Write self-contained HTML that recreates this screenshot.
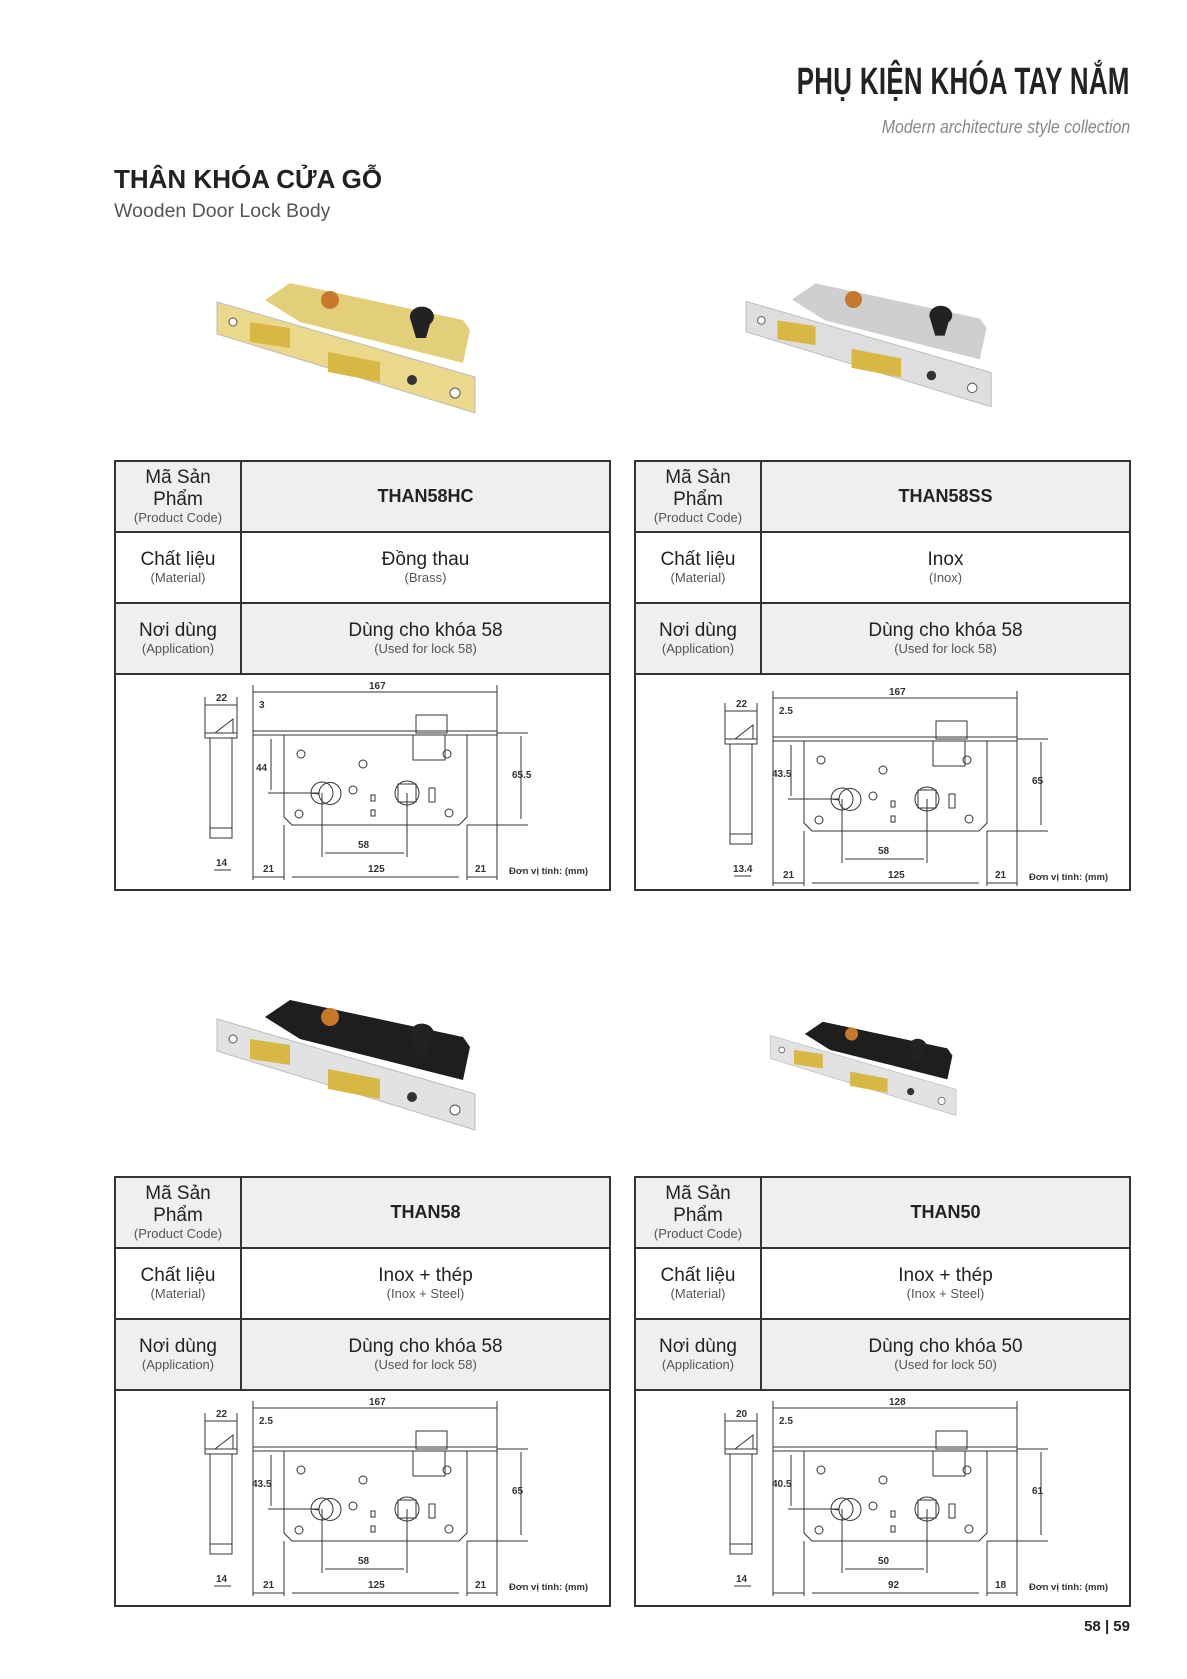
<!DOCTYPE html>
<html><head><meta charset="utf-8"><style>
*{margin:0;padding:0;box-sizing:border-box}
body{width:1187px;height:1679px;background:#fff;position:relative;font-family:"Liberation Sans","Noto Sans CJK SC",sans-serif;color:#222;overflow:hidden}
.abs{position:absolute}
.t1{right:57px;top:61px;font-size:38px;font-weight:bold;color:#222;transform:scaleX(0.68);transform-origin:right top;white-space:nowrap;letter-spacing:0.5px}
.t2{right:57px;top:117px;font-size:18px;font-style:italic;color:#888;transform:scaleX(0.88);transform-origin:right top;white-space:nowrap}
.h1{left:114px;top:164px;font-size:26px;font-weight:bold;color:#222;white-space:nowrap}
.h2{left:114px;top:200px;font-size:19.5px;color:#555;white-space:nowrap}
table{position:absolute;border-collapse:collapse;width:497px;table-layout:fixed}
td{border:2px solid #333;text-align:center;vertical-align:middle;height:71px;line-height:1.15}
tr.g td{background:#efefef}
td.k{width:126px;font-size:19px}
td.v{font-size:19px}
td.v b{font-size:18px;font-weight:600}
small{display:block;font-size:13px;color:#555}
td.d{height:216px;background:#fff;padding:0}
.pn{right:57px;top:1618px;font-size:15px;font-weight:bold}
</style></head><body>
<div class="abs t1">PHỤ KIỆN KHÓA TAY NẮM</div>
<div class="abs t2">Modern architecture style collection</div>
<div class="abs h1">THÂN KHÓA CỬA GỖ</div>
<div class="abs h2">Wooden Door Lock Body</div>

<svg class="abs" style="left:0;top:0" width="1187" height="1679">
<defs>
<g id="lock">
 <polygon points="290,283 463,320 470,330 463,363 300,322 265,300" fill="var(--b)"/>
 <polygon points="217,302 475,377 475,413 217,334" fill="var(--p)" stroke="#bbb" stroke-width="1"/>
 <polygon points="250,322 290,328 290,348 250,342" fill="var(--l)"/>
 <polygon points="328,352 380,362 380,382 328,372" fill="var(--l)"/>
 <circle cx="330" cy="300" r="9" fill="#c8782a"/>
 <path d="M410 318 a12 10 0 1 1 20 6 l-4 14 h-10z" fill="#222"/>
 <circle cx="412" cy="380" r="5" fill="#333"/>
 <circle cx="455" cy="393" r="5" fill="#fff" stroke="#555"/>
 <circle cx="233" cy="322" r="4" fill="#fff" stroke="#555"/>
</g>
<g id="dwg" fill="none" stroke="#333" stroke-width="1">
 <line x1="92" y1="30" x2="124" y2="30"/><line x1="92" y1="22" x2="92" y2="58"/><line x1="124" y1="22" x2="124" y2="58"/>
 <rect x="92" y="58" width="32" height="5"/><polygon points="102,58 120,44 120,58"/>
 <rect x="97" y="63" width="22" height="100"/><rect x="97" y="153" width="22" height="10"/>
 <line x1="101" y1="195" x2="118" y2="195"/>
 <line x1="140" y1="17" x2="384" y2="17"/><line x1="140" y1="10" x2="140" y2="205"/><line x1="384" y1="10" x2="384" y2="205"/>
 <rect x="140" y="56" width="244" height="4"/>
 <polygon points="171,60 354,60 354,142 346,150 179,150 171,142"/>
 <rect x="303" y="40" width="31" height="18"/><rect x="300" y="60" width="32" height="25"/>
 <path d="M198 118 h8 a11 11 0 1 1 0 1 z"/><circle cx="209" cy="118" r="11"/>
 <rect x="285" y="109" width="18" height="18"/><circle cx="294" cy="118" r="12"/>
 <circle cx="188" cy="79" r="4"/><circle cx="334" cy="79" r="4"/><circle cx="186" cy="139" r="4"/><circle cx="336" cy="138" r="4"/><circle cx="250" cy="89" r="4"/><circle cx="240" cy="115" r="4"/>
 <rect x="316" y="113" width="6" height="14"/><rect x="258" y="120" width="4" height="6"/><rect x="258" y="135" width="4" height="6"/>
 <line x1="209" y1="118" x2="209" y2="182"/><line x1="294" y1="118" x2="294" y2="182"/><line x1="212" y1="178" x2="291" y2="178"/>
 <line x1="171" y1="150" x2="171" y2="205"/><line x1="354" y1="150" x2="354" y2="205"/>
 <line x1="140" y1="202" x2="171" y2="202"/><line x1="179" y1="202" x2="346" y2="202"/><line x1="354" y1="202" x2="384" y2="202"/>
 <line x1="408" y1="61" x2="408" y2="144"/><line x1="354" y1="150" x2="415" y2="150"/><line x1="384" y1="58" x2="415" y2="58"/>
 <line x1="158" y1="64" x2="158" y2="115"/><line x1="155" y1="118" x2="200" y2="118"/>
</g>
</defs>
<g style="--b:#e3cf7a;--p:#ead98d;--l:#d8b845"><use href="#lock"/></g>
<g style="--b:#cfcfcf;--p:#dedede;--l:#d8b845" transform="translate(540,5) scale(0.95)"><use href="#lock" transform="translate(0,10)"/></g>
<g style="--b:#1e1e1e;--p:#e2e2e2;--l:#d8b845" transform="translate(0,717)"><use href="#lock"/></g>
<g style="--b:#1e1e1e;--p:#e2e2e2;--l:#d8b845" transform="translate(614,818) scale(0.72)"><use href="#lock"/></g>
</svg>

<table style="left:114px;top:460px">
<tr class="g"><td class="k">Mã Sản<br>Phẩm<small>(Product Code)</small></td><td class="v"><b>THAN58HC</b></td></tr>
<tr><td class="k">Chất liệu<small>(Material)</small></td><td class="v">Đồng thau<small>(Brass)</small></td></tr>
<tr class="g"><td class="k">Nơi dùng<small>(Application)</small></td><td class="v">Dùng cho khóa 58<small>(Used for lock 58)</small></td></tr>
<tr><td class="d" colspan="2"></td></tr>
</table>
<table style="left:634px;top:460px">
<tr class="g"><td class="k">Mã Sản<br>Phẩm<small>(Product Code)</small></td><td class="v"><b>THAN58SS</b></td></tr>
<tr><td class="k">Chất liệu<small>(Material)</small></td><td class="v">Inox<small>(Inox)</small></td></tr>
<tr class="g"><td class="k">Nơi dùng<small>(Application)</small></td><td class="v">Dùng cho khóa 58<small>(Used for lock 58)</small></td></tr>
<tr><td class="d" colspan="2"></td></tr>
</table>
<table style="left:114px;top:1176px">
<tr class="g"><td class="k">Mã Sản<br>Phẩm<small>(Product Code)</small></td><td class="v"><b>THAN58</b></td></tr>
<tr><td class="k">Chất liệu<small>(Material)</small></td><td class="v">Inox + thép<small>(Inox + Steel)</small></td></tr>
<tr class="g"><td class="k">Nơi dùng<small>(Application)</small></td><td class="v">Dùng cho khóa 58<small>(Used for lock 58)</small></td></tr>
<tr><td class="d" colspan="2"></td></tr>
</table>
<table style="left:634px;top:1176px">
<tr class="g"><td class="k">Mã Sản<br>Phẩm<small>(Product Code)</small></td><td class="v"><b>THAN50</b></td></tr>
<tr><td class="k">Chất liệu<small>(Material)</small></td><td class="v">Inox + thép<small>(Inox + Steel)</small></td></tr>
<tr class="g"><td class="k">Nơi dùng<small>(Application)</small></td><td class="v">Dùng cho khóa 50<small>(Used for lock 50)</small></td></tr>
<tr><td class="d" colspan="2"></td></tr>
</table>

<svg class="abs" style="left:0;top:0" width="1187" height="1679" font-family="Liberation Sans, sans-serif" font-size="10" font-weight="bold" fill="#333">
<g transform="translate(113,675)"><use href="#dwg"/>
<text x="103" y="26">22</text><text x="103" y="191">14</text><text x="256" y="14">167</text><text x="146" y="33">3</text><text x="143" y="96">44</text><text x="399" y="103">65.5</text><text x="245" y="173">58</text><text x="150" y="197">21</text><text x="255" y="197">125</text><text x="362" y="197">21</text><text x="396" y="199" font-size="9.5">Đơn vị tính: (mm)</text></g>
<g transform="translate(633,681)"><use href="#dwg"/>
<text x="103" y="26">22</text><text x="100" y="191">13.4</text><text x="256" y="14">167</text><text x="146" y="33">2.5</text><text x="139" y="96">43.5</text><text x="399" y="103">65</text><text x="245" y="173">58</text><text x="150" y="197">21</text><text x="255" y="197">125</text><text x="362" y="197">21</text><text x="396" y="199" font-size="9.5">Đơn vị tính: (mm)</text></g>
<g transform="translate(113,1391)"><use href="#dwg"/>
<text x="103" y="26">22</text><text x="103" y="191">14</text><text x="256" y="14">167</text><text x="146" y="33">2.5</text><text x="139" y="96">43.5</text><text x="399" y="103">65</text><text x="245" y="173">58</text><text x="150" y="197">21</text><text x="255" y="197">125</text><text x="362" y="197">21</text><text x="396" y="199" font-size="9.5">Đơn vị tính: (mm)</text></g>
<g transform="translate(633,1391)"><use href="#dwg"/>
<text x="103" y="26">20</text><text x="103" y="191">14</text><text x="256" y="14">128</text><text x="146" y="33">2.5</text><text x="139" y="96">40.5</text><text x="399" y="103">61</text><text x="245" y="173">50</text><text x="255" y="197">92</text><text x="362" y="197">18</text><text x="396" y="199" font-size="9.5">Đơn vị tính: (mm)</text></g>
</svg>

<div class="abs pn">58 | 59</div>
</body></html>
